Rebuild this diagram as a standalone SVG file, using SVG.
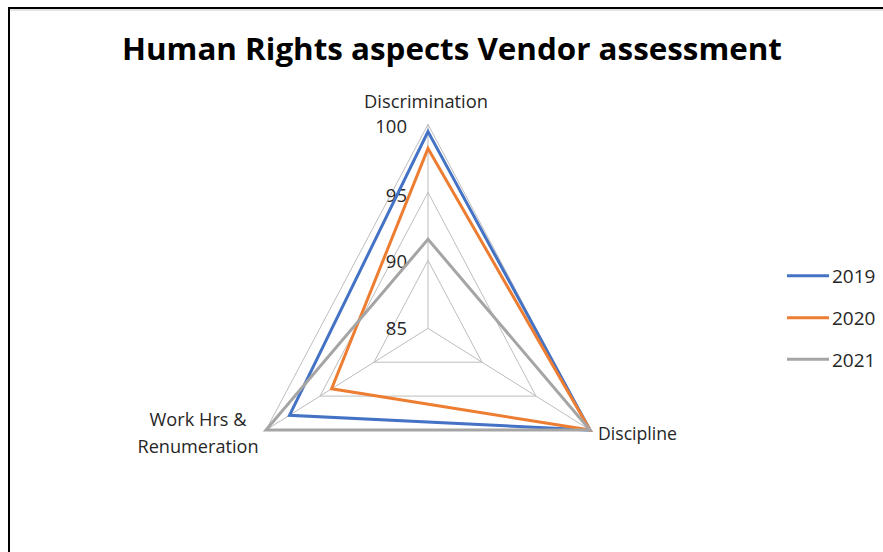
<svg xmlns="http://www.w3.org/2000/svg" width="883" height="552" viewBox="0 0 883 552">
<style>
.grid{fill:none;stroke:#bdbdbd;stroke-width:1}
.s{fill:none;stroke-width:3;stroke-linejoin:miter}
.t{font-family:"Open Sans","Liberation Sans",sans-serif;fill:#262626}
.ax{font-size:18.5px}
.lg{font-size:19px}
</style>
<rect x="0" y="0" width="883" height="552" fill="#ffffff"/>
<path d="M9,552 V8 H883" fill="none" stroke="#000" stroke-width="2"/>
<line x1="10" y1="10" x2="883" y2="10" stroke="#c8c8c8" stroke-width="1"/>
<text x="452" y="60" text-anchor="middle" font-family="'Open Sans','Liberation Sans',sans-serif" font-weight="bold" font-size="31" fill="#000" textLength="660" lengthAdjust="spacingAndGlyphs">Human Rights aspects Vendor assessment</text>
<g id="grid">
<polygon class="grid" points="428,260.3 482,362.2 374,362.2"/>
<polygon class="grid" points="428,192.3 536,396.1 320,396.1"/>
<polygon class="grid" points="428,124.3 590,430 266,430"/>
<line class="grid" x1="428" y1="328.3" x2="428" y2="124.3"/>
<line class="grid" x1="428" y1="328.3" x2="590" y2="430"/>
<line class="grid" x1="428" y1="328.3" x2="266" y2="430"/>
</g>
<g id="scale" class="t ax" text-anchor="end">
<text x="407" y="133">100</text>
<text x="407" y="201.5">95</text>
<text x="407" y="268.3">90</text>
<text x="407" y="335">85</text>
</g>
<g id="series">
<polygon id="s2019" class="s" stroke="#4472C4" points="428,131.6 590,430 289.5,415.3"/>
<polygon id="s2020" class="s" stroke="#ED7D31" points="428,148.4 590,430 331.6,388.8"/>
<polygon id="s2021" class="s" stroke="#A5A5A5" points="428,239.3 590,430 266,430"/>
</g>
<g id="node-discrimination"><text class="t ax" x="426" y="107.5" text-anchor="middle" textLength="124" lengthAdjust="spacingAndGlyphs">Discrimination</text></g>
<g id="node-discipline"><text class="t ax" x="598" y="440" textLength="79" lengthAdjust="spacingAndGlyphs">Discipline</text></g>
<g id="node-workhrs">
<text class="t ax" x="198" y="425.7" text-anchor="middle" textLength="97" lengthAdjust="spacingAndGlyphs">Work Hrs &amp;</text>
<text class="t ax" x="198" y="453.3" text-anchor="middle" textLength="121" lengthAdjust="spacingAndGlyphs">Renumeration</text>
</g>
<g id="legend">
<line x1="787" y1="275.7" x2="829" y2="275.7" stroke="#4472C4" stroke-width="3"/>
<line x1="787" y1="317.7" x2="829" y2="317.7" stroke="#ED7D31" stroke-width="3"/>
<line x1="787" y1="359.3" x2="829" y2="359.3" stroke="#A5A5A5" stroke-width="3"/>
<text class="t lg" x="832" y="283.3">2019</text>
<text class="t lg" x="832" y="325.3">2020</text>
<text class="t lg" x="832" y="367">2021</text>
</g>
</svg>
